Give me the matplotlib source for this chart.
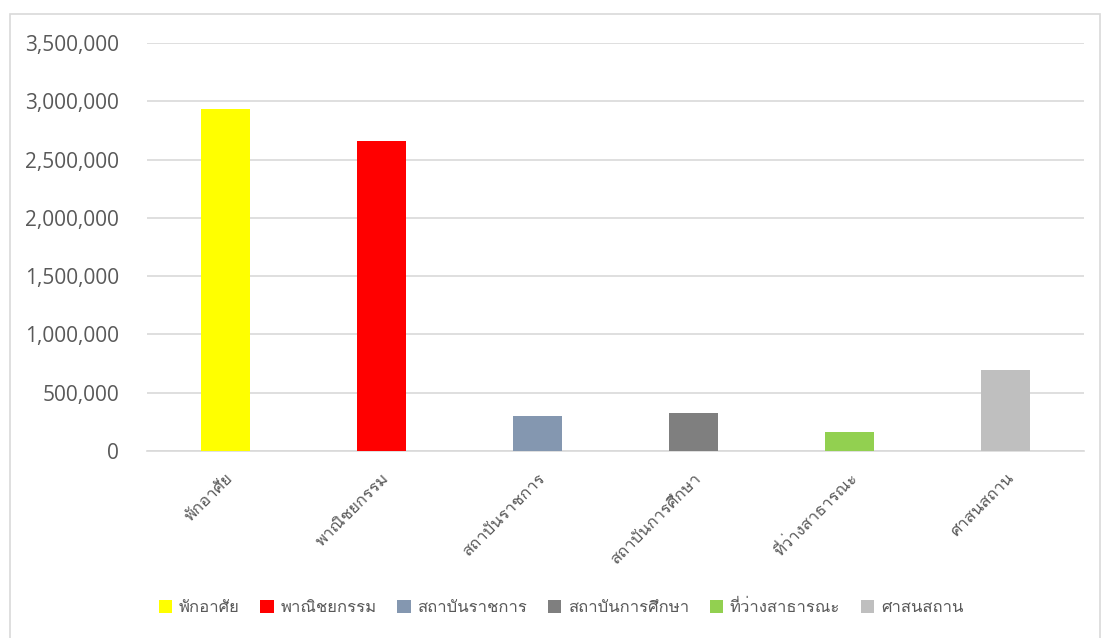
import numpy as np
import matplotlib.pyplot as plt
from matplotlib import font_manager
from matplotlib.ft2font import FT2Font
from matplotlib.patches import Patch, Rectangle

categories = ["พักอาศัย", "พาณิชยกรรม", "สถาบันราชการ",
              "สถาบันการศึกษา", "ที่ว่างสาธารณะ", "ศาสนสถาน"]
values = [2935000, 2660000, 300000, 326000, 163000, 695000]
colors = ["#FFFF00", "#FF0000", "#8497B0", "#7F7F7F", "#92D050", "#BFBFBF"]
yticks = [0, 500000, 1000000, 1500000, 2000000, 2500000, 3000000, 3500000]

# find a font that has Thai glyphs
thai_font = None
for f in font_manager.fontManager.ttflist:
    try:
        if 0x0E01 in FT2Font(f.fname).get_charmap():
            thai_font = f.name
            break
    except Exception:
        pass
families = ([thai_font] if thai_font else []) + ["DejaVu Sans"]
plt.rcParams['font.family'] = families

fig = plt.figure(figsize=(11.02, 6.38), dpi=100)
fig.patches.append(Rectangle((10 / 1102, -0.01), 1090 / 1102, 1 - 14 / 638 + 0.01,
                             transform=fig.transFigure, fill=False,
                             edgecolor="#D9D9D9", linewidth=1.2))

ax = fig.add_axes([147 / 1102, 187 / 638, 937 / 1102, 408 / 638])
x = np.arange(len(categories))
ax.bar(x, values, width=0.314, color=colors, zorder=3)

ax.set_xlim(-0.5, len(categories) - 0.5)
ax.set_ylim(0, 3500000)
ax.set_yticks(yticks)
ax.set_yticklabels([f"{v:,}" for v in yticks], fontsize=15, color="#595959",
                   family=["Open Sans", "DejaVu Sans"])
ax.set_xticks(x)
ax.set_xticklabels(categories, rotation=45, ha="right", rotation_mode="anchor",
                   fontsize=12, color="#595959")
ax.tick_params(axis="both", length=0)
ax.tick_params(axis="y", pad=20)
ax.tick_params(axis="x", pad=14)
ax.grid(axis="y", color="#D9D9D9", linewidth=1.2, zorder=0)
for s in ["top", "right", "left"]:
    ax.spines[s].set_visible(False)
ax.spines["bottom"].set_color("#D9D9D9")
ax.spines["bottom"].set_linewidth(1.2)

handles = [Patch(facecolor=c, edgecolor="none") for c in colors]
fig.legend(handles, categories, loc="center", bbox_to_anchor=(561 / 1102, 1 - 608 / 638),
           ncol=6, frameon=False, fontsize=12, handlelength=0.8, handleheight=0.8,
           handletextpad=0.4, columnspacing=1.25, labelcolor="#595959")

fig.savefig("out.png", dpi=100)
